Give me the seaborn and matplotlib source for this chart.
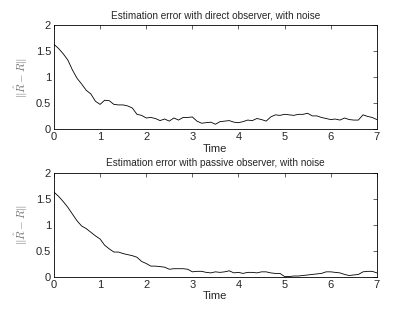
import numpy as np
import pandas as pd
import matplotlib
matplotlib.use("Agg")
import matplotlib.pyplot as plt
import seaborn as sns

# sample times (0 to 7, step 0.1)
time = np.round(np.linspace(0, 7, 71), 1)

err_direct = [1.63, 1.55, 1.45, 1.33, 1.14, 0.98, 0.87, 0.75, 0.68, 0.54,
              0.48, 0.56, 0.55, 0.48, 0.47, 0.47, 0.45, 0.41, 0.29, 0.27,
              0.22, 0.23, 0.21, 0.17, 0.20, 0.16, 0.22, 0.18, 0.23, 0.23,
              0.24, 0.16, 0.12, 0.13, 0.14, 0.10, 0.15, 0.16, 0.17, 0.14,
              0.13, 0.15, 0.18, 0.17, 0.21, 0.19, 0.16, 0.24, 0.28, 0.27,
              0.29, 0.28, 0.27, 0.29, 0.29, 0.31, 0.26, 0.26, 0.23, 0.21,
              0.19, 0.20, 0.18, 0.22, 0.19, 0.18, 0.18, 0.28, 0.25, 0.23,
              0.19]

err_passive = [1.63, 1.55, 1.45, 1.34, 1.21, 1.08, 0.98, 0.93, 0.86, 0.79,
               0.73, 0.61, 0.54, 0.48, 0.48, 0.45, 0.43, 0.41, 0.38, 0.30,
               0.26, 0.21, 0.21, 0.20, 0.19, 0.15, 0.16, 0.16, 0.16, 0.15,
               0.10, 0.11, 0.11, 0.09, 0.08, 0.10, 0.09, 0.10, 0.12, 0.08,
               0.09, 0.07, 0.09, 0.09, 0.08, 0.10, 0.10, 0.08, 0.07, 0.07,
               0.01, 0.01, 0.02, 0.02, 0.03, 0.04, 0.05, 0.06, 0.07, 0.10,
               0.10, 0.09, 0.08, 0.05, 0.03, 0.04, 0.05, 0.10, 0.11, 0.11,
               0.08]

titles = ["Estimation error with direct observer, with noise",
          "Estimation error with passive observer, with noise"]
xticks = [0, 1, 2, 3, 4, 5, 6, 7]
yticks = [0, 0.5, 1, 1.5, 2]
ytick_labels = ["0", "0.5", "1", "1.5", "2"]

sns.set_style("white")
plt.rcParams['font.family'] = ['Liberation Sans', 'DejaVu Sans']
plt.rcParams['mathtext.fontset'] = 'cm'

fig = plt.figure(figsize=(4.15, 3.12), dpi=100)
ax1 = fig.add_axes([0.130, 0.585, 0.778, 0.335])
ax2 = fig.add_axes([0.130, 0.112, 0.778, 0.334])

for ax, vals, title in zip([ax1, ax2], [err_direct, err_passive], titles):
    df = pd.DataFrame({"Time": time, "err": vals})
    sns.lineplot(data=df, x="Time", y="err", ax=ax, color="black", linewidth=0.6)
    ax.set_xlim(0, 7)
    ax.set_ylim(0, 2)
    ax.set_xticks(xticks)
    ax.set_yticks(yticks)
    ax.set_yticklabels(ytick_labels)
    ax.tick_params(direction="in", length=3, width=0.5, labelsize=8,
                   top=True, right=True, pad=2)
    for s in ax.spines.values():
        s.set_linewidth(0.6)
        s.set_color("black")
    ax.set_title(title, fontsize=7.2, pad=5)
    ax.set_xlabel("Time", fontsize=8, labelpad=1)
    ax.set_ylabel(r"$\|\hat{R} - R\|$", fontsize=8, color="0.45", labelpad=4)

fig.savefig("out.png", dpi=100)
